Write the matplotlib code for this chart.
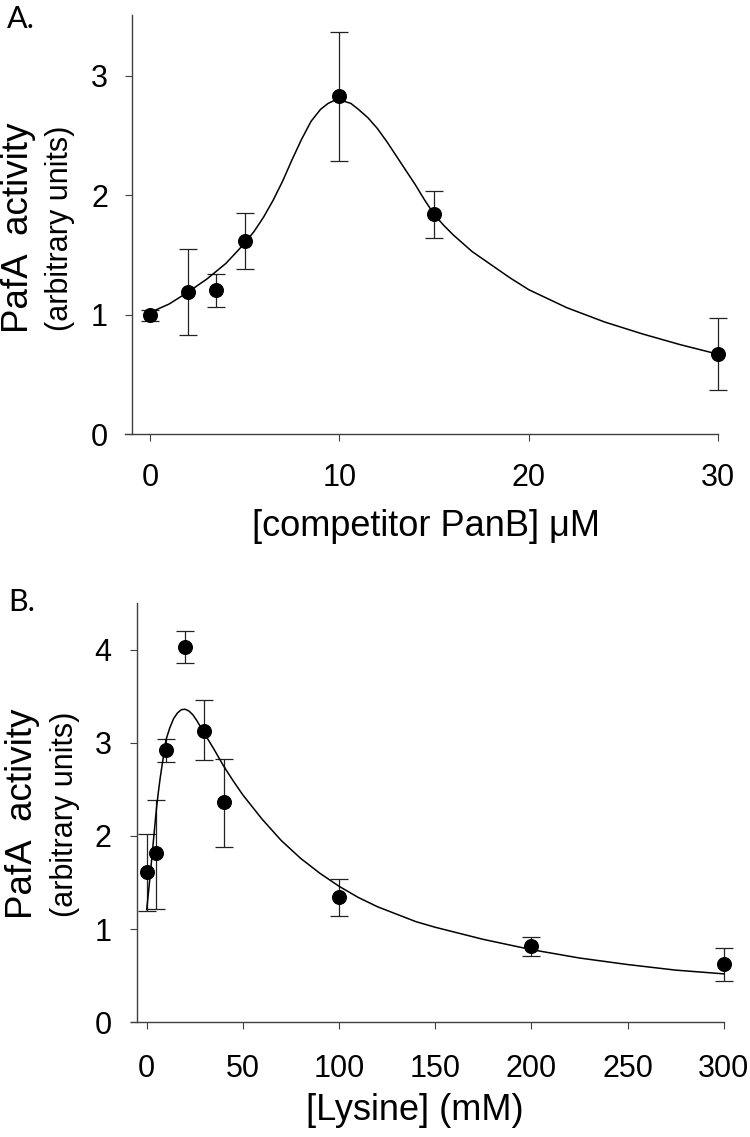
"""
    PafA activity vs competitor PanB (A) and lysine (B)
"""

import numpy as np
from matplotlib import pyplot as plt

plt.rcParams['font.family'] = ['Liberation Sans', 'DejaVu Sans']

## DATA

# panel A
conc_a = [0, 2, 3.5, 5, 10, 15, 30]
act_a = [1.00, 1.195, 1.21, 1.62, 2.83, 1.84, 0.67]
hi_a = [1.04, 1.55, 1.34, 1.85, 3.37, 2.04, 0.97]
lo_a = [0.95, 0.83, 1.067, 1.386, 2.29, 1.64, 0.37]

fit_x_a = [0, 1, 2, 3, 4, 5, 5.5, 6, 6.5, 7, 7.5, 8, 8.5, 9, 9.4, 9.8, 10.2,
           10.6, 11, 11.5, 12, 12.5, 13, 13.5, 14, 14.5, 15, 15.5, 16, 16.5,
           17, 18, 19, 20, 22, 24, 26, 28, 30]
fit_y_a = [1.02, 1.09, 1.19, 1.30, 1.43, 1.60, 1.70, 1.82, 1.96, 2.12, 2.30,
           2.47, 2.62, 2.72, 2.77, 2.80, 2.79, 2.77, 2.72, 2.65, 2.56, 2.45,
           2.33, 2.21, 2.09, 1.96, 1.84, 1.75, 1.67, 1.60, 1.53, 1.42, 1.31,
           1.21, 1.06, 0.94, 0.84, 0.75, 0.67]

# panel B
conc_b = [0, 5, 10, 20, 30, 40, 100, 200, 300]
act_b = [1.61, 1.815, 2.92, 4.03, 3.13, 2.36, 1.34, 0.82, 0.625]
hi_b = [2.02, 2.39, 3.04, 4.20, 3.46, 2.83, 1.54, 0.92, 0.80]
lo_b = [1.195, 1.22, 2.79, 3.86, 2.81, 1.88, 1.14, 0.71, 0.44]

fit_x_b = [0, 1, 2, 3, 4, 5, 6, 7, 8, 10, 12, 14, 16, 18, 20, 22, 24, 26,
           30, 35, 40, 45, 50, 60, 70, 80, 90, 100, 110, 120, 130, 140, 150,
           175, 200, 225, 250, 275, 300]
fit_y_b = [1.21, 1.41, 1.62, 1.84, 2.06, 2.28, 2.46, 2.62, 2.76, 3.03, 3.16,
           3.26, 3.32, 3.355, 3.36, 3.34, 3.30, 3.24, 3.10, 2.93, 2.75, 2.59,
           2.44, 2.18, 1.95, 1.76, 1.60, 1.46, 1.34, 1.24, 1.16, 1.08, 1.02,
           0.89, 0.78, 0.69, 0.62, 0.56, 0.52]

W, H = 750., 1137.
SPINE = '#404040'


def style(ax, xlim, ylim, xticks, yticks, ext, xpad, ypad):
    ax.set_xlim(*xlim)
    ax.set_ylim(*ylim)
    ax.set_xticks(xticks)
    ax.set_yticks(yticks)
    for s in ['top', 'right']:
        ax.spines[s].set_visible(False)
    for s in ['left', 'bottom']:
        ax.spines[s].set_color(SPINE)
        ax.spines[s].set_linewidth(1.0)
    ax.spines['bottom'].set_bounds(xlim[0] - ext, xlim[1])
    ax.spines['left'].set_bounds(ylim[0], ylim[1])
    ax.tick_params(axis='both', direction='out', length=5, width=0.8,
                   color=SPINE, labelsize=22)
    ax.tick_params(axis='x', pad=xpad)
    ax.tick_params(axis='y', pad=ypad)
    ax.patch.set_visible(False)


def panel(ax, x, y, hi, lo, fx, fy):
    yerr = [np.array(y) - np.array(lo), np.array(hi) - np.array(y)]
    eb = ax.errorbar(x, y, yerr=yerr, fmt='none', ecolor='#222222',
                     elinewidth=0.9, capsize=6.5, capthick=0.9, zorder=2)
    for art in eb.lines[1] + eb.lines[2]:
        art.set_clip_on(False)
    ax.plot(fx, fy, color='black', lw=1.1, zorder=3, clip_on=False)
    ax.plot(x, y, 'o', color='black', ms=9.8, zorder=4, clip_on=False)


fig = plt.figure(figsize=(W / 100, H / 100), dpi=100)

# panel A
axA = fig.add_axes([131.7 / W, 1 - 434.3 / H, (718.3 - 131.7) / W, (434.3 - 15) / H])
panel(axA, conc_a, act_a, hi_a, lo_a, fit_x_a, fit_y_a)
style(axA, (-0.97, 30), (0, 3.51), [0, 10, 20, 30], [0, 1, 2, 3], 0.35, 16, 12)

# panel B
axB = fig.add_axes([136.7 / W, 1 - 1022.3 / H, (723.7 - 136.7) / W, (1022.3 - 603) / H])
panel(axB, conc_b, act_b, hi_b, lo_b, fit_x_b, fit_y_b)
style(axB, (-5.2, 300), (0, 4.5), [0, 50, 100, 150, 200, 250, 300],
      [0, 1, 2, 3, 4], 3.0, 18, 13)

# labels
fig.text(426 / W, 1 - 527 / H, '[competitor PanB] \u03bcM', fontsize=26,
         ha='center', va='center')
fig.text(415 / W, 1 - 1110 / H, '[Lysine] (mM)', fontsize=26,
         ha='center', va='center')

for xb1, xb2, yc in [(28, 68, 228), (32, 73, 814)]:
    fig.text(xb1 / W, 1 - yc / H, 'PafA  activity', fontsize=26.5, rotation=90,
             rotation_mode='anchor', ha='center', va='baseline')
    fig.text(xb2 / W, 1 - yc / H, '(arbitrary units)', fontsize=22, rotation=90,
             rotation_mode='anchor', ha='center', va='baseline')

fig.text(7 / W, 1 - 5 / H, 'A.', fontsize=22, family=['Lato', 'DejaVu Sans'],
         ha='left', va='top')
fig.text(8 / W, 1 - 588 / H, 'B.', fontsize=22, family=['Lato', 'DejaVu Sans'],
         ha='left', va='top')

fig.savefig('out.png', dpi=100)
